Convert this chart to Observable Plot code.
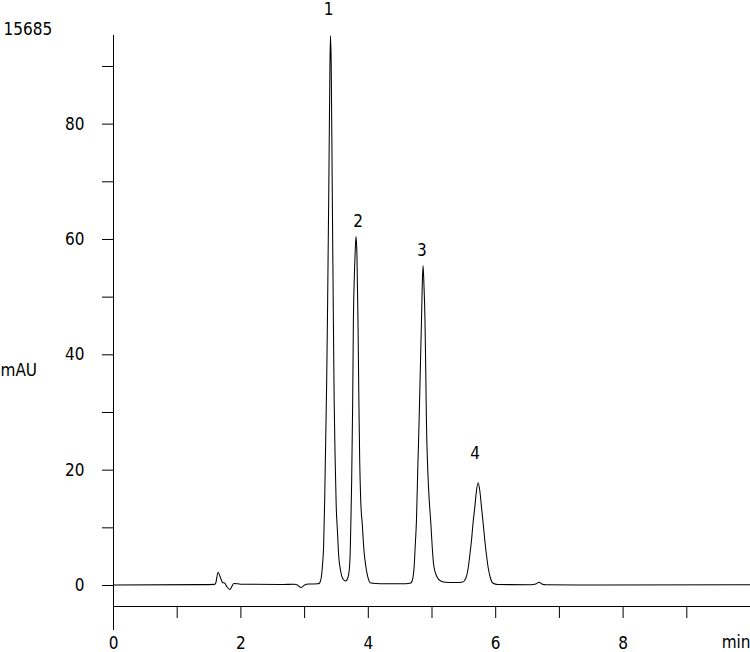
<!DOCTYPE html>
<html>
<head>
<meta charset="utf-8">
<script src="https://cdn.jsdelivr.net/npm/d3@7"></script>
<script src="https://cdn.jsdelivr.net/npm/@observablehq/plot@0.6"></script>
<style>
  html, body { margin: 0; padding: 0; background: #fff; overflow: hidden; }
  #chart svg { display: block; }
</style>
</head>
<body>
<div id="chart"></div>
<script>
// Chromatogram trace: retention time (min) and absorbance (mAU)
const time = [
  0, 1.367, 1.587, 1.603, 1.642, 1.673, 1.712, 1.744, 1.783, 1.827, 1.862, 1.890, 1.995,
  2.624, 2.844, 2.891, 2.946, 3.001, 3.064, 3.205,
  3.236, 3.252, 3.268, 3.284, 3.299, 3.315, 3.331, 3.347, 3.362, 3.378, 3.394, 3.405,
  3.417, 3.433, 3.449, 3.464, 3.480, 3.496, 3.515, 3.535, 3.567, 3.598, 3.645,
  3.676, 3.700, 3.716, 3.727, 3.739, 3.755, 3.766, 3.779, 3.795, 3.807,
  3.821, 3.838, 3.852, 3.865, 3.881, 3.907, 3.928, 3.959, 3.991, 4.038, 4.195, 4.588,
  4.666, 4.698, 4.721, 4.737, 4.756, 4.776, 4.797, 4.816, 4.835, 4.847, 4.860,
  4.874, 4.890, 4.902, 4.913, 4.934, 4.957, 4.981, 5.005, 5.027, 5.075, 5.137, 5.216, 5.373,
  5.483, 5.530, 5.562, 5.593, 5.620, 5.645, 5.672, 5.695, 5.724,
  5.750, 5.777, 5.802, 5.829, 5.856, 5.884, 5.915, 5.954, 6.033,
  6.551, 6.630, 6.682, 6.724, 6.787, 7.651, 10.0
];
const absorbance = [
  0.10, 0.15, 0.20, 0.35, 2.31, 1.56, 0.52, 0.43, -0.26, -0.69, -0.09, 0.35, 0.23,
  0.17, 0.23, 0.05, -0.35, 0.09, 0.26, 0.29,
  0.43, 0.87, 1.91, 3.99, 6.94, 14.74, 25.14, 35.55, 49.42, 66.76, 85.83, 95.37,
  91.03, 70.23, 49.42, 32.08, 21.68, 13.87, 9.54, 5.20, 2.43, 1.21, 0.78,
  1.21, 2.60, 5.72, 11.27, 18.21, 32.08, 45.95, 52.89, 58.09, 60.52,
  57.74, 45.95, 32.08, 21.68, 14.74, 10.40, 6.59, 3.47, 1.56, 0.43, 0.29, 0.29,
  0.43, 1.21, 3.47, 6.94, 11.27, 19.94, 28.26, 37.28, 45.95, 52.02, 55.49,
  52.02, 45.95, 37.28, 28.26, 19.94, 14.74, 10.92, 6.42, 3.47, 1.56, 0.78, 0.55, 0.52,
  0.61, 1.21, 2.60, 5.20, 7.80, 10.92, 13.58, 16.13, 17.81,
  16.47, 13.58, 10.92, 7.80, 5.20, 2.95, 1.39, 0.43, 0.17,
  0.12, 0.26, 0.57, 0.26, 0.12, 0.09, 0.12
];

// Peak labels
const peakLabels = ["1", "2", "3", "4"];
const peakLabelTime = [3.378, 3.841, 4.839, 5.677];
const peakLabelValue = [99.9, 63.1, 58.1, 22.8];

// Axis ticks and labels
const yMajorTicks = [0, 20, 40, 60, 80];
const yMinorTicks = [10, 30, 50, 70, 90];
const xTicks = [1, 2, 3, 4, 5, 6, 7, 8, 9];
const xTickLabels = [0, 2, 4, 6, 8];
const xUnitLabel = "min";
const yUnitLabel = "mAU";
const fullScaleLabel = "15685";

const xDomain = [0, 10];
const yDomain = [-3.64, 95.37];
const yAxisBottom = -7.8;

const trace = time.map((t, i) => ({t, v: absorbance[i]}));
const peaks = peakLabels.map((label, i) => ({label, t: peakLabelTime[i], v: peakLabelValue[i]}));

const font = '"DejaVu Sans Condensed", "DejaVu Sans", sans-serif';

const chart = Plot.plot({
  width: 750,
  height: 652,
  marginLeft: 113,
  marginRight: 0,
  marginTop: 35,
  marginBottom: 46,
  style: {fontFamily: font, fontSize: "17px", background: "#fff", color: "#000", overflow: "visible", fontStretch: "condensed"},
  x: {domain: xDomain},
  y: {domain: yDomain},
  marks: [
    // axis lines
    Plot.ruleX([xDomain[0]], {y1: yAxisBottom, y2: yDomain[1], stroke: "#000", strokeWidth: 1}),
    Plot.ruleY([yDomain[0]], {x1: xDomain[0], x2: xDomain[1], stroke: "#000", strokeWidth: 1}),
    // y axis
    Plot.axisY({ticks: yMajorTicks, tickSize: 11, tickPadding: 18, label: null, fontSize: 17}),
    Plot.axisY({ticks: yMinorTicks, tickSize: 11, text: null, label: null}),
    // x axis
    Plot.axisX({ticks: xTicks, tickSize: 12, text: null, label: null}),
    Plot.axisX({ticks: xTickLabels, tickSize: 0, tickPadding: 30, label: null, fontSize: 17}),
    Plot.text([xUnitLabel], {x: xDomain[1], y: yDomain[0], textAnchor: "end", dy: 36, fontSize: 17}),
    Plot.text([yUnitLabel], {frameAnchor: "left", y: [37.3], dx: -113, textAnchor: "start", fontSize: 17}),
    Plot.text([fullScaleLabel], {frameAnchor: "left", y: [96.4], dx: -110, textAnchor: "start", fontSize: 17}),
    // trace
    Plot.line(trace, {x: "t", y: "v", curve: "monotone-x", stroke: "#000", strokeWidth: 1.05}),
    // peak labels
    Plot.text(peaks, {x: "t", y: "v", text: "label", fontSize: 17})
  ]
});
document.getElementById("chart").appendChild(chart);
</script>
</body>
</html>
